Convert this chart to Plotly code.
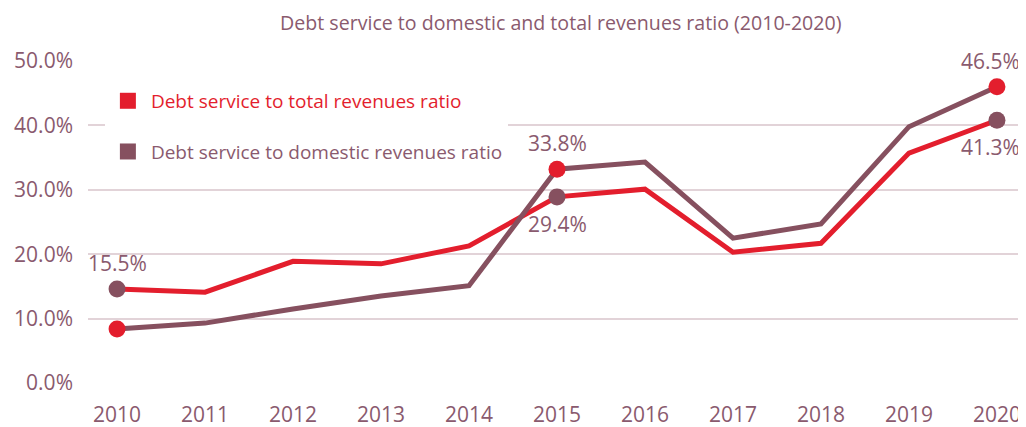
import plotly.graph_objects as go

years = [2010, 2011, 2012, 2013, 2014, 2015, 2016, 2017, 2018, 2019, 2020]
total_ratio = [14.6, 14.1, 18.9, 18.5, 21.3, 28.9, 30.1, 20.3, 21.7, 35.7, 40.8]
domestic_ratio = [8.4, 9.3, 11.5, 13.5, 15.1, 33.2, 34.3, 22.5, 24.7, 39.8, 46.0]

# highlighted years and their labels as printed in the source
label_idx = [0, 5, 10]
label_top = ["15.5%", "33.8%", "46.5%"]
label_bottom = ["", "29.4%", "41.3%"]

RED = "#e31e2d"
PLUM = "#86505f"
TXT = "#8a5a6e"
GRID = "#e2d3d8"
FONT = "Open Sans"

fig = go.Figure()

fig.add_trace(go.Scatter(x=years, y=total_ratio, mode="lines",
                         line=dict(color=RED, width=5), showlegend=False))
fig.add_trace(go.Scatter(x=years, y=domestic_ratio, mode="lines",
                         line=dict(color=PLUM, width=5), showlegend=False))

# dots (the original puts the red dots on the plum line and vice versa)
hx = [years[i] for i in label_idx]
fig.add_trace(go.Scatter(x=hx, y=[domestic_ratio[i] for i in label_idx], mode="markers",
                         marker=dict(color=RED, size=17), showlegend=False, cliponaxis=False))
fig.add_trace(go.Scatter(x=hx, y=[total_ratio[i] for i in label_idx], mode="markers",
                         marker=dict(color=PLUM, size=17), showlegend=False, cliponaxis=False))

# legend entries
fig.add_trace(go.Scatter(x=[None], y=[None], mode="markers",
                         marker=dict(color=RED, size=18, symbol="square"),
                         name=f"<span style='color:{RED}'>Debt service to total revenues ratio</span>",
                         legendgroup="a"))
fig.add_trace(go.Scatter(x=[None], y=[None], mode="markers",
                         marker=dict(color=PLUM, size=18, symbol="square"),
                         name=f"<span style='color:{TXT}'>Debt service to domestic revenues ratio</span>",
                         legendgroup="b"))

# value labels
top_y = [total_ratio[0], domestic_ratio[5], domestic_ratio[10]]
xsh = [0, 0, -6]
for i, t, yv, xs in zip(label_idx, label_top, top_y, xsh):
    fig.add_annotation(x=years[i], y=yv, text=t, showarrow=False, yshift=26, xshift=xs,
                       font=dict(size=21, color=TXT, family=FONT))
for i, t, xs in zip(label_idx, label_bottom, xsh):
    if t:
        fig.add_annotation(x=years[i], y=total_ratio[i], text=t, showarrow=False, yshift=-27,
                           xshift=xs, font=dict(size=21, color=TXT, family=FONT))

# page body has an 8px margin, so the figure is sized/offset to compensate
fig.update_layout(
    width=1018, height=419,
    margin=dict(l=80, r=0, t=53, b=44),
    paper_bgcolor="white", plot_bgcolor="white",
    font=dict(family=FONT, color=TXT, size=19),
    title=dict(text="Debt service to domestic and total revenues ratio (2010-2020)",
               x=0.543, xanchor="center", y=0.963, yanchor="middle",
               font=dict(size=19.6, color=TXT, family=FONT)),
    legend=dict(x=0.018, y=0.935, xanchor="left", yanchor="top",
                bgcolor="white", font=dict(size=19, color=TXT, family=FONT),
                tracegroupgap=23, traceorder="grouped", itemwidth=36),
)
fig.update_xaxes(range=[2009.67, 2020.33], tickmode="array", tickvals=years,
                 ticktext=[str(y) for y in years], showgrid=False, zeroline=False,
                 showline=False, tickfont=dict(size=21, color=TXT), ticks="",
                 ticklabelstandoff=17)
fig.update_yaxes(range=[0, 50], tickvals=[0, 10, 20, 30, 40, 50],
                 ticktext=["0.0%", "10.0%", "20.0%", "30.0%", "40.0%", "50.0%"],
                 showgrid=True, gridcolor=GRID, gridwidth=1.5, zeroline=False,
                 tickfont=dict(size=21, color=TXT), ticks="", ticklabelstandoff=14)

fig.write_html("out.html")
